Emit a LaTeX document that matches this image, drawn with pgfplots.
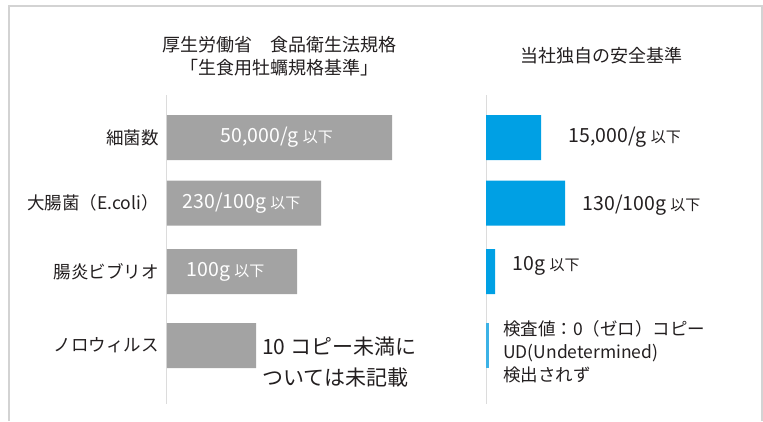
\documentclass[border=0pt]{standalone}
\usepackage{fontspec}
\setmainfont{Noto Sans CJK JP}
\usepackage{pgfplots}
\pgfplotsset{compat=1.18}

\definecolor{bargray}{HTML}{A3A3A3}
\definecolor{barblue}{HTML}{00A0E4}
\definecolor{lightblue}{HTML}{3CB2E6}
\definecolor{framegray}{HTML}{D3D3D3}
\definecolor{axisgray}{HTML}{DCDCDC}
\definecolor{ink}{HTML}{231F20}

\newcommand\lblfont{\fontsize{17.5}{23}\selectfont}
\newcommand\ttlfont{\fontsize{18}{23}\selectfont}
\newcommand\numfont{\fontsize{19.5}{23}\selectfont}
\newcommand\smlfont{\fontsize{15}{17}\selectfont}
\newcommand\norofont{\fontsize{21}{31}\selectfont}

\pgfplotsset{
  panel/.style={
    scale only axis, width=254pt, height=309pt,
    xmin=0, xmax=254, ymin=95, ymax=404, y dir=reverse,
    axis x line=none, axis y line=left,
    y axis line style={-, draw=axisgray, line width=1pt},
    ytick={137.5,203,271.5,345.5},
    major tick length=0pt,
    yticklabel style={font=\lblfont, text=ink, inner sep=0pt, xshift=-8pt},
    clip=false,
  },
}

\begin{document}
\begin{tikzpicture}
\path[use as bounding box] (0pt,0pt) rectangle (763pt,-421pt);
\draw[framegray, line width=1.2pt] (9pt,-421pt) -- (9pt,-6pt) -- (762pt,-6pt) -- (762pt,-421pt);

% titles
\node[align=center, font=\ttlfont, text=ink] at (279pt,-56pt)
  {厚生労働省\hspace{1em}食品衛生法規格\\「生食用牡蠣規格基準」};
\node[font=\ttlfont, text=ink] at (601pt,-56pt) {当社独自の安全基準};

% left panel: official standard
\begin{axis}[panel, at={(167pt,-404pt)}, anchor=south west,
  yticklabels={細菌数, 大腸菌（E.coli）, 腸炎ビブリオ, ノロウィルス}]
\addplot[xbar, fill=bargray, draw=none, bar width=45] coordinates {
  (225,137.5) (154,203) (130,271.5) (89,345.5)
};
\node[anchor=west, text=white, font=\numfont] at (axis cs:50,137.5) {50,000/g {\smlfont 以下}};
\node[anchor=west, text=white, font=\numfont] at (axis cs:12,203) {230/100g {\smlfont 以下}};
\node[anchor=west, text=white, font=\numfont] at (axis cs:16,271.5) {100g {\smlfont 以下}};
\node[anchor=west, text=ink, font=\norofont, align=left, inner sep=0pt] at (axis cs:95,362)
  {10 コピー未満に\\ついては未記載};
\end{axis}

% right panel: own standard
\begin{axis}[panel, at={(486pt,-404pt)}, anchor=south west, yticklabels={}]
\addplot[xbar, fill=barblue, draw=none, bar width=45] coordinates {
  (55,137.5) (79,203) (9,271.5)
};
\addplot[xbar, fill=lightblue, draw=none, bar width=45] coordinates {
  (2.5,345.5)
};
\node[anchor=west, text=ink, font=\numfont] at (axis cs:79,137.5) {15,000/g {\smlfont 以下}};
\node[anchor=west, text=ink, font=\numfont] at (axis cs:93,205) {130/100g {\smlfont 以下}};
\node[anchor=west, text=ink, font=\numfont] at (axis cs:23,266) {10g {\smlfont 以下}};
\node[anchor=west, text=ink, font=\lblfont, align=left, inner sep=0pt] at (axis cs:17,352)
  {検査値：0（ゼロ）コピー\\UD(Undetermined)\\検出されず};
\end{axis}
\end{tikzpicture}
\end{document}
